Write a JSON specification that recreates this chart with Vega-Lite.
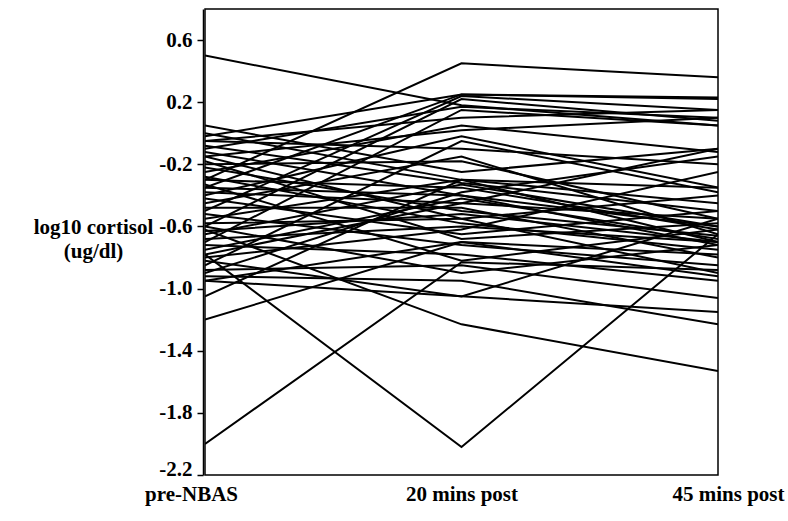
{
  "$schema": "https://vega.github.io/schema/vega-lite/v6.json",
  "autosize": {"type": "none"},
  "padding": {"left": 205, "top": 9, "right": 70, "bottom": 46},
  "width": 513,
  "height": 466,
  "background": "white",
  "config": {"view": {"stroke": "black", "strokeWidth": 1.5}},
  "data": {"values": [
    {"id": 1, "time": "pre-NBAS", "v": 0.50}, {"id": 1, "time": "20 mins post", "v": 0.18}, {"id": 1, "time": "45 mins post", "v": 0.05},
    {"id": 2, "time": "pre-NBAS", "v": -0.30}, {"id": 2, "time": "20 mins post", "v": 0.45}, {"id": 2, "time": "45 mins post", "v": 0.36},
    {"id": 3, "time": "pre-NBAS", "v": -0.78}, {"id": 3, "time": "20 mins post", "v": -2.02}, {"id": 3, "time": "45 mins post", "v": -0.65},
    {"id": 4, "time": "pre-NBAS", "v": -2.00}, {"id": 4, "time": "20 mins post", "v": -0.83}, {"id": 4, "time": "45 mins post", "v": -0.88},
    {"id": 5, "time": "pre-NBAS", "v": -1.20}, {"id": 5, "time": "20 mins post", "v": -0.70}, {"id": 5, "time": "45 mins post", "v": -0.92},
    {"id": 6, "time": "pre-NBAS", "v": -0.62}, {"id": 6, "time": "20 mins post", "v": -1.23}, {"id": 6, "time": "45 mins post", "v": -1.53},
    {"id": 7, "time": "pre-NBAS", "v": -1.05}, {"id": 7, "time": "20 mins post", "v": -0.30}, {"id": 7, "time": "45 mins post", "v": -0.45},
    {"id": 8, "time": "pre-NBAS", "v": 0.05}, {"id": 8, "time": "20 mins post", "v": -0.25}, {"id": 8, "time": "45 mins post", "v": -0.10},
    {"id": 9, "time": "pre-NBAS", "v": -0.02}, {"id": 9, "time": "20 mins post", "v": 0.25}, {"id": 9, "time": "45 mins post", "v": 0.23},
    {"id": 10, "time": "pre-NBAS", "v": -0.35}, {"id": 10, "time": "20 mins post", "v": 0.25}, {"id": 10, "time": "45 mins post", "v": 0.22},
    {"id": 11, "time": "pre-NBAS", "v": -0.50}, {"id": 11, "time": "20 mins post", "v": 0.24}, {"id": 11, "time": "45 mins post", "v": 0.15},
    {"id": 12, "time": "pre-NBAS", "v": -0.60}, {"id": 12, "time": "20 mins post", "v": 0.22}, {"id": 12, "time": "45 mins post", "v": 0.08},
    {"id": 13, "time": "pre-NBAS", "v": -0.10}, {"id": 13, "time": "20 mins post", "v": 0.17}, {"id": 13, "time": "45 mins post", "v": 0.10},
    {"id": 14, "time": "pre-NBAS", "v": -0.70}, {"id": 14, "time": "20 mins post", "v": 0.15}, {"id": 14, "time": "45 mins post", "v": 0.05},
    {"id": 15, "time": "pre-NBAS", "v": -0.25}, {"id": 15, "time": "20 mins post", "v": 0.05}, {"id": 15, "time": "45 mins post", "v": -0.12},
    {"id": 16, "time": "pre-NBAS", "v": -0.15}, {"id": 16, "time": "20 mins post", "v": 0.02}, {"id": 16, "time": "45 mins post", "v": 0.10},
    {"id": 17, "time": "pre-NBAS", "v": -0.40}, {"id": 17, "time": "20 mins post", "v": -0.02}, {"id": 17, "time": "45 mins post", "v": -0.35},
    {"id": 18, "time": "pre-NBAS", "v": -0.05}, {"id": 18, "time": "20 mins post", "v": -0.10}, {"id": 18, "time": "45 mins post", "v": -0.20},
    {"id": 19, "time": "pre-NBAS", "v": -0.20}, {"id": 19, "time": "20 mins post", "v": -0.18}, {"id": 19, "time": "45 mins post", "v": -0.55},
    {"id": 20, "time": "pre-NBAS", "v": -0.85}, {"id": 20, "time": "20 mins post", "v": -0.05}, {"id": 20, "time": "45 mins post", "v": -0.38},
    {"id": 21, "time": "pre-NBAS", "v": -0.45}, {"id": 21, "time": "20 mins post", "v": -0.15}, {"id": 21, "time": "45 mins post", "v": -0.65},
    {"id": 22, "time": "pre-NBAS", "v": -0.55}, {"id": 22, "time": "20 mins post", "v": -0.30}, {"id": 22, "time": "45 mins post", "v": -0.70},
    {"id": 23, "time": "pre-NBAS", "v": -0.08}, {"id": 23, "time": "20 mins post", "v": -0.32}, {"id": 23, "time": "45 mins post", "v": -0.50},
    {"id": 24, "time": "pre-NBAS", "v": -0.30}, {"id": 24, "time": "20 mins post", "v": -0.35}, {"id": 24, "time": "45 mins post", "v": -0.62},
    {"id": 25, "time": "pre-NBAS", "v": -0.65}, {"id": 25, "time": "20 mins post", "v": -0.33}, {"id": 25, "time": "45 mins post", "v": -0.60},
    {"id": 26, "time": "pre-NBAS", "v": -0.12}, {"id": 26, "time": "20 mins post", "v": -0.40}, {"id": 26, "time": "45 mins post", "v": -0.72},
    {"id": 27, "time": "pre-NBAS", "v": -0.38}, {"id": 27, "time": "20 mins post", "v": -0.45}, {"id": 27, "time": "45 mins post", "v": -0.55},
    {"id": 28, "time": "pre-NBAS", "v": -0.75}, {"id": 28, "time": "20 mins post", "v": -0.42}, {"id": 28, "time": "45 mins post", "v": -0.68},
    {"id": 29, "time": "pre-NBAS", "v": -0.22}, {"id": 29, "time": "20 mins post", "v": -0.50}, {"id": 29, "time": "45 mins post", "v": -0.66},
    {"id": 30, "time": "pre-NBAS", "v": -0.48}, {"id": 30, "time": "20 mins post", "v": -0.48}, {"id": 30, "time": "45 mins post", "v": -0.80},
    {"id": 31, "time": "pre-NBAS", "v": -0.90}, {"id": 31, "time": "20 mins post", "v": -0.38}, {"id": 31, "time": "45 mins post", "v": -0.15},
    {"id": 32, "time": "pre-NBAS", "v": -0.58}, {"id": 32, "time": "20 mins post", "v": -0.55}, {"id": 32, "time": "45 mins post", "v": -0.40},
    {"id": 33, "time": "pre-NBAS", "v": -0.28}, {"id": 33, "time": "20 mins post", "v": -0.58}, {"id": 33, "time": "45 mins post", "v": -0.75},
    {"id": 34, "time": "pre-NBAS", "v": -0.68}, {"id": 34, "time": "20 mins post", "v": -0.60}, {"id": 34, "time": "45 mins post", "v": -0.70},
    {"id": 35, "time": "pre-NBAS", "v": -0.80}, {"id": 35, "time": "20 mins post", "v": -0.62}, {"id": 35, "time": "45 mins post", "v": -0.25},
    {"id": 36, "time": "pre-NBAS", "v": -0.42}, {"id": 36, "time": "20 mins post", "v": -0.65}, {"id": 36, "time": "45 mins post", "v": -0.50},
    {"id": 37, "time": "pre-NBAS", "v": -0.18}, {"id": 37, "time": "20 mins post", "v": -0.68}, {"id": 37, "time": "45 mins post", "v": -0.58},
    {"id": 38, "time": "pre-NBAS", "v": -0.95}, {"id": 38, "time": "20 mins post", "v": -0.70}, {"id": 38, "time": "45 mins post", "v": -0.78},
    {"id": 39, "time": "pre-NBAS", "v": -0.52}, {"id": 39, "time": "20 mins post", "v": -0.72}, {"id": 39, "time": "45 mins post", "v": -0.85},
    {"id": 40, "time": "pre-NBAS", "v": -0.72}, {"id": 40, "time": "20 mins post", "v": -0.78}, {"id": 40, "time": "45 mins post", "v": -0.95},
    {"id": 41, "time": "pre-NBAS", "v": -0.33}, {"id": 41, "time": "20 mins post", "v": -0.82}, {"id": 41, "time": "45 mins post", "v": -0.62},
    {"id": 42, "time": "pre-NBAS", "v": -0.88}, {"id": 42, "time": "20 mins post", "v": -0.85}, {"id": 42, "time": "45 mins post", "v": -1.06},
    {"id": 43, "time": "pre-NBAS", "v": -0.95}, {"id": 43, "time": "20 mins post", "v": -1.05}, {"id": 43, "time": "45 mins post", "v": -1.15},
    {"id": 44, "time": "pre-NBAS", "v": -0.92}, {"id": 44, "time": "20 mins post", "v": -0.95}, {"id": 44, "time": "45 mins post", "v": -1.23},
    {"id": 45, "time": "pre-NBAS", "v": -0.60}, {"id": 45, "time": "20 mins post", "v": -0.90}, {"id": 45, "time": "45 mins post", "v": -0.72},
    {"id": 46, "time": "pre-NBAS", "v": -0.82}, {"id": 46, "time": "20 mins post", "v": -1.05}, {"id": 46, "time": "45 mins post", "v": -0.55},
    {"id": 47, "time": "pre-NBAS", "v": 0.00}, {"id": 47, "time": "20 mins post", "v": -0.30}, {"id": 47, "time": "45 mins post", "v": -0.35},
    {"id": 48, "time": "pre-NBAS", "v": -0.15}, {"id": 48, "time": "20 mins post", "v": -0.55}, {"id": 48, "time": "45 mins post", "v": -0.90},
    {"id": 49, "time": "pre-NBAS", "v": -0.63}, {"id": 49, "time": "20 mins post", "v": -0.52}, {"id": 49, "time": "45 mins post", "v": -0.70},
    {"id": 50, "time": "pre-NBAS", "v": -0.35}, {"id": 50, "time": "20 mins post", "v": -0.40}, {"id": 50, "time": "45 mins post", "v": -0.60},
    {"id": 51, "time": "pre-NBAS", "v": -0.78}, {"id": 51, "time": "20 mins post", "v": -0.45}, {"id": 51, "time": "45 mins post", "v": -0.10},
    {"id": 52, "time": "pre-NBAS", "v": -0.05}, {"id": 52, "time": "20 mins post", "v": 0.10}, {"id": 52, "time": "45 mins post", "v": 0.15}
  ]},
  "mark": {"type": "line", "color": "black", "strokeWidth": 2, "clip": true},
  "encoding": {
    "x": {
      "field": "time", "type": "ordinal",
      "sort": ["pre-NBAS", "20 mins post", "45 mins post"],
      "scale": {"type": "point", "padding": 0},
      "axis": {
        "title": null, "ticks": false, "domain": false, "grid": false,
        "labelAngle": 0, "labelFont": "Liberation Serif", "labelFontWeight": "bold",
        "labelFontSize": 21, "labelColor": "black", "labelPadding": 8,
        "labelOffset": {"condition": [{"test": "datum.value == 'pre-NBAS'", "value": -14}, {"test": "datum.value == '45 mins post'", "value": 10}], "value": 0}
      }
    },
    "y": {
      "field": "v", "type": "quantitative",
      "scale": {"domain": [-2.2, 0.8], "nice": false, "zero": false},
      "axis": {
        "values": [0.6, 0.2, -0.2, -0.6, -1.0, -1.4, -1.8, -2.2],
        "labelExpr": "(datum.value < 0 ? '-' : '') + format(abs(datum.value), '.1f')",
        "grid": false, "tickSize": 6, "tickColor": "black", "tickWidth": 1.5,
        "domainColor": "black", "domainWidth": 1.5, "offset": 2,
        "labelFont": "Liberation Serif", "labelFontWeight": "bold", "labelFontSize": 21,
        "labelColor": "black", "labelPadding": 5,
        "labelBaseline": {"condition": {"test": "datum.value < -2.1", "value": "alphabetic"}, "value": "middle"},
        "title": ["log10 cortisol", "(ug/dl)"], "titleAngle": 0,
        "titleFont": "Liberation Serif", "titleFontWeight": "bold", "titleFontSize": 21,
        "titleColor": "black", "titleAlign": "center", "titleBaseline": "middle",
        "titleX": -110, "titleY": 218, "titleLineHeight": 24
      }
    },
    "detail": {"field": "id", "type": "nominal"}
  }
}
